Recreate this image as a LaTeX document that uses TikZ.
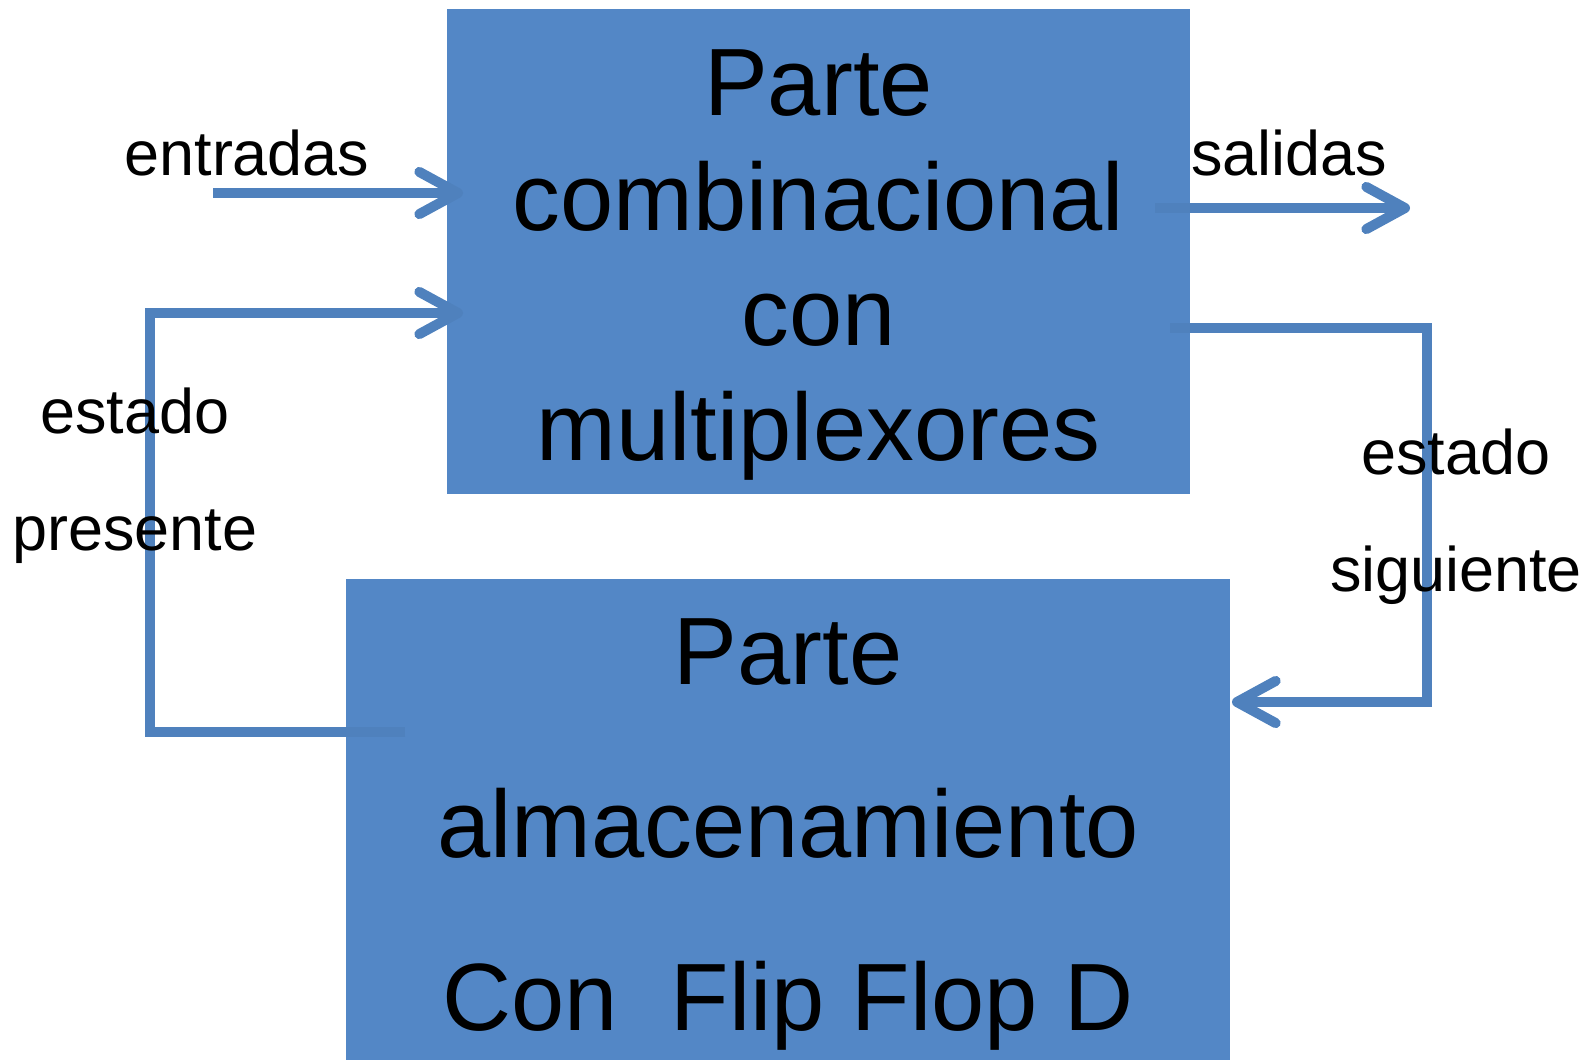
\documentclass[tikz,border=0pt]{standalone}
\usepackage{fontspec}
\setmainfont{Liberation Sans}
\usetikzlibrary{arrows.meta}
\usetikzlibrary{positioning}
\definecolor{cajaazul}{RGB}{83,135,198}
\definecolor{lineaazul}{RGB}{79,129,189}
\tikzstyle{linea} = [draw=lineaazul, line width=2.85pt]
\tikzstyle{flecha} = [linea, -{Straight Barb[length=11pt,width=12pt,round]}]
\tikzstyle{bloque} = [rectangle, fill=cajaazul, inner sep=0pt]
\tikzstyle{grande} = [align=center, inner sep=0pt, anchor=north,
    font=\fontsize{27.2pt}{32.7pt}\selectfont]
\tikzstyle{etiqueta} = [align=center, inner sep=0pt,
    font=\fontsize{17.9pt}{33.3pt}\selectfont]

\begin{document}
\begin{tikzpicture}[x=0.01cm, y=-0.01cm]
\useasboundingbox (0,0) rectangle (1594,1060);

\node (comb) [bloque, minimum width=7.43cm, minimum height=4.85cm] at (818.5,251.5) {};
\node (alm) [bloque, minimum width=8.84cm, minimum height=4.81cm] at (788,819.5) {};

\coordinate (inent) at (213,193);
\coordinate (incomb1) at (463,193);
\coordinate (incomb2) at (463,313);
\coordinate (outalm) at (405,732);
\coordinate (outcomb1) at (1155,208);
\coordinate (outsal) at (1410,208);
\coordinate (outcomb2) at (1170,328);
\coordinate (inalm) at (1232,702);

\draw [flecha] (inent) -- (incomb1);
\draw [flecha] (outalm) -- (150,732) |- (incomb2);
\draw [flecha] (outcomb1) -- (outsal);
\draw [flecha] (outcomb2) -- (1427,328) |- (inalm);

\node (combtxt) [grande] at (818.5,48.5) {
    Parte \\
    combinacional \\
    con \\
    multiplexores
};
\node (almtxt) [grande, font=\fontsize{27.2pt}{49.2pt}\selectfont] at (788,617.5) {
    Parte \\
    almacenamiento \\
    Con\ \ Flip Flop D
};

\node (entradas) [etiqueta, anchor=base] at (247,175) {entradas};
\node (salidas) [etiqueta, anchor=base] at (1289,175) {salidas};
\node (presente) [etiqueta, anchor=north] at (135,387) {estado \\ presente};
\node (siguiente) [etiqueta, anchor=north] at (1456,428) {estado \\ siguiente};
\end{tikzpicture}
\end{document}
